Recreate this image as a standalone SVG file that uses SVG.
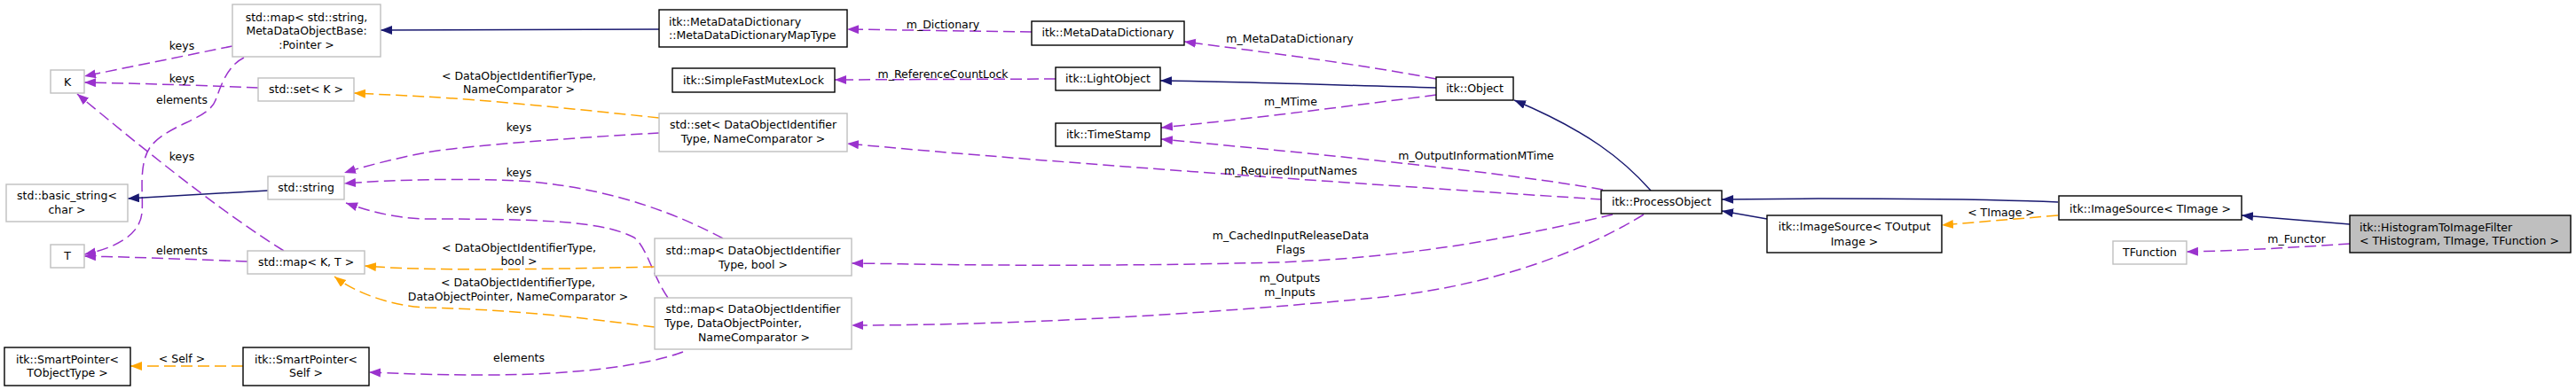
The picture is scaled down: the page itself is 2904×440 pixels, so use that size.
<svg xmlns="http://www.w3.org/2000/svg" width="2904" height="440" viewBox="0 0 2904 440">
<style>
text{font-family:"DejaVu Sans","Liberation Sans",sans-serif;font-size:12.5px;fill:#000}
.m{text-anchor:middle}
.s{text-anchor:start}
.nd{fill:#fff;stroke:#000;stroke-width:1.4}
.ng{fill:#fff;stroke:#bfbfbf;stroke-width:1.4}
.nr{fill:#bfbfbf;stroke:#000;stroke-width:1.4}
.en{fill:none;stroke:#191970;stroke-width:1.5;marker-end:url(#an)}
.ep{fill:none;stroke:#9a32cd;stroke-width:1.5;stroke-dasharray:13,6;marker-end:url(#ap)}
.eo{fill:none;stroke:#ffa500;stroke-width:1.5;stroke-dasharray:13,6;marker-end:url(#ao)}
</style>
<defs>
<marker id="an" markerUnits="userSpaceOnUse" markerWidth="14" markerHeight="11" refX="13" refY="5" orient="auto"><path d="M0,0 L13,5 L0,10 Z" fill="#191970"/></marker>
<marker id="ap" markerUnits="userSpaceOnUse" markerWidth="14" markerHeight="11" refX="13" refY="5" orient="auto"><path d="M0,0 L13,5 L0,10 Z" fill="#9a32cd"/></marker>
<marker id="ao" markerUnits="userSpaceOnUse" markerWidth="14" markerHeight="11" refX="13" refY="5" orient="auto"><path d="M0,0 L13,5 L0,10 Z" fill="#ffa500"/></marker>
</defs>
<rect width="2904" height="440" fill="#fff"/>
<g id="connectors">
<path class="en" d="M2649,253 L2527,243"/>
<path class="ep" d="M2649,275 C2590,279 2520,283 2465,284"/>
<text class="m" x="2589" y="273.5">m_Functor</text>
<path class="en" d="M2320,228 C2250,225 2150,224 2050,224 L1941,225"/>
<path class="eo" d="M2320,243 L2189,254"/>
<text class="m" x="2256" y="243.5">&lt; TImage &gt;</text>
<path class="en" d="M1992,247 L1941,238"/>
<path class="en" d="M1861,215 C1830,180 1790,148 1707,113"/>
<path class="ep" d="M1807,214 C1700,195 1500,175 1309,157"/>
<text class="m" x="1664" y="179.5">m_OutputInformationMTime</text>
<path class="ep" d="M1619,107 C1520,120 1400,135 1309,144"/>
<text class="m" x="1455" y="119">m_MTime</text>
<path class="en" d="M1619,99 C1500,96 1400,92 1308,91"/>
<path class="ep" d="M1619,89 C1530,72 1420,58 1335,47"/>
<text class="m" x="1454" y="47.5">m_MetaDataDictionary</text>
<path class="ep" d="M1163,36 L955,33"/>
<text class="m" x="1063" y="31.5">m_Dictionary</text>
<path class="ep" d="M1190,89 L941,90"/>
<text class="m" x="1063" y="87.5">m_ReferenceCountLock</text>
<path class="en" d="M743,33 L429,34"/>
<path class="ep" d="M1806,225 C1600,212 1200,185 955,162"/>
<text class="m" x="1455" y="196.5">m_RequiredInputNames</text>
<path class="ep" d="M1818,242 C1720,265 1600,290 1440,296 C1200,302 1050,298 960,297"/>
<text class="m" x="1455" y="269.5">m_CachedInputReleaseData</text>
<text class="m" x="1455" y="285.5">Flags</text>
<path class="ep" d="M1853,242 C1800,275 1700,320 1560,335 C1300,360 1100,367 960,367"/>
<text class="m" x="1454" y="317.5">m_Outputs</text>
<text class="m" x="1454" y="333.5">m_Inputs</text>
<path class="ep" d="M743,150 C650,155 520,165 480,172 C440,180 410,188 388,195"/>
<text class="m" x="585" y="147.5">keys</text>
<path class="ep" d="M815,269 C770,245 700,215 600,205 C530,200 440,203 388,207"/>
<text class="m" x="585" y="198.5">keys</text>
<path class="ep" d="M753,336 C735,310 730,280 715,268 C680,250 620,247 480,247 C440,246 410,236 390,229"/>
<text class="m" x="585" y="239.5">keys</text>
<path class="ep" d="M770,397 C730,412 650,423 550,423 C480,423 440,421 416,420"/>
<text class="m" x="585" y="407.5">elements</text>
<path class="eo" d="M738,301 C600,304 480,306 411,300"/>
<text class="m" x="585" y="283.5">&lt; DataObjectIdentifierType,</text>
<text class="m" x="585" y="298.5">bool &gt;</text>
<path class="eo" d="M738,369 C680,362 600,350 480,347 C440,345 400,330 377,312"/>
<text class="m" x="584" y="322.5">&lt; DataObjectIdentifierType,</text>
<text class="m" x="584" y="338.5">DataObjectPointer, NameComparator &gt;</text>
<path class="eo" d="M743,133 C650,123 550,113 480,109 L399,105"/>
<text class="m" x="585" y="89.5">&lt; DataObjectIdentifierType,</text>
<text class="m" x="585" y="104.5">NameComparator &gt;</text>
<path class="ep" d="M279,295 C200,292 150,290 95,289"/>
<text class="m" x="205" y="286.5">elements</text>
<path class="ep" d="M320,283 C260,245 200,200 87,106"/>
<text class="m" x="205" y="180.5">keys</text>
<path class="ep" d="M262,52 L95,86"/>
<text class="m" x="205" y="55.5">keys</text>
<path class="ep" d="M291,99 C220,96 150,94 95,93"/>
<text class="m" x="205" y="92.5">keys</text>
<path class="ep" d="M275,65 C255,75 248,100 243,113 C235,135 190,140 170,165 C155,185 162,220 160,240 C158,265 130,280 95,287"/>
<text class="m" x="205" y="116.5">elements</text>
<path class="en" d="M302,215 L144,224"/>
<path class="eo" d="M274,413 L147,413"/>
<text class="m" x="205" y="408.5">&lt; Self &gt;</text>
</g>
<g id="n_root"><rect class="nr" x="2649" y="243" width="249" height="42"/><text class="s" x="2660" y="260.5">itk::HistogramToImageFilter</text><text class="s" x="2660" y="276">&lt; THistogram, TImage, TFunction &gt;</text></g>
<g id="n_imgsrc_timage"><rect class="nd" x="2321" y="221" width="206" height="27"/><text class="m" x="2424" y="239.5">itk::ImageSource&lt; TImage &gt;</text></g>
<g id="n_tfunction"><rect class="ng" x="2382" y="272" width="83" height="26"/><text class="m" x="2423.5" y="289">TFunction</text></g>
<g id="n_imgsrc_tout"><rect class="nd" x="1992" y="243" width="197" height="42"/><text class="m" x="2090.5" y="260">itk::ImageSource&lt; TOutput</text><text class="m" x="2090.5" y="276.5">Image &gt;</text></g>
<g id="n_processobject"><rect class="nd" x="1805" y="215" width="136" height="26"/><text class="m" x="1873" y="232">itk::ProcessObject</text></g>
<g id="n_object"><rect class="nd" x="1619" y="87" width="87" height="26"/><text class="m" x="1662.5" y="104">itk::Object</text></g>
<g id="n_timestamp"><rect class="nd" x="1190" y="139" width="119" height="26"/><text class="m" x="1249.5" y="156">itk::TimeStamp</text></g>
<g id="n_lightobject"><rect class="nd" x="1190" y="76" width="118" height="26"/><text class="m" x="1249" y="93">itk::LightObject</text></g>
<g id="n_mdd"><rect class="nd" x="1163" y="24" width="172" height="27"/><text class="m" x="1249" y="41">itk::MetaDataDictionary</text></g>
<g id="n_maptype"><rect class="nd" x="743" y="11" width="212" height="42"/><text class="s" x="754" y="28.5">itk::MetaDataDictionary</text><text class="s" x="754" y="44">::MetaDataDictionaryMapType</text></g>
<g id="n_sfml"><rect class="nd" x="758" y="77" width="183" height="27"/><text class="m" x="849.5" y="94.5">itk::SimpleFastMutexLock</text></g>
<g id="n_set_doi"><rect class="ng" x="743" y="128" width="212" height="43"/><text class="m" x="849" y="145">std::set&lt; DataObjectIdentifier</text><text class="m" x="849" y="161">Type, NameComparator &gt;</text></g>
<g id="n_map_doi_bool"><rect class="ng" x="738" y="269" width="222" height="42"/><text class="m" x="849" y="287">std::map&lt; DataObjectIdentifier</text><text class="m" x="849" y="303">Type, bool &gt;</text></g>
<g id="n_map_doi_dop"><rect class="ng" x="738" y="336" width="222" height="58"/><text class="m" x="849" y="353">std::map&lt; DataObjectIdentifier</text><text class="s" x="749" y="369">Type, DataObjectPointer,</text><text class="m" x="850" y="385">NameComparator &gt;</text></g>
<g id="n_map_string"><rect class="ng" x="262" y="5" width="167" height="59"/><text class="m" x="345.5" y="24">std::map&lt; std::string,</text><text class="m" x="345.5" y="39"> MetaDataObjectBase:</text><text class="m" x="345.5" y="54.5">:Pointer &gt;</text></g>
<g id="n_set_k"><rect class="ng" x="291" y="88" width="108" height="26"/><text class="m" x="345" y="104.5">std::set&lt; K &gt;</text></g>
<g id="n_k"><rect class="ng" x="57" y="79" width="38" height="26"/><text class="m" x="76" y="96.5">K</text></g>
<g id="n_string"><rect class="ng" x="302" y="199" width="86" height="26"/><text class="m" x="345" y="216">std::string</text></g>
<g id="n_basic_string"><rect class="ng" x="7" y="208" width="137" height="42"/><text class="m" x="75.5" y="225">std::basic_string&lt;</text><text class="m" x="75.5" y="240.5">char &gt;</text></g>
<g id="n_t"><rect class="ng" x="57" y="276" width="38" height="26"/><text class="m" x="76" y="293">T</text></g>
<g id="n_map_kt"><rect class="ng" x="279" y="283" width="132" height="26"/><text class="m" x="345" y="300">std::map&lt; K, T &gt;</text></g>
<g id="n_sp_tobj"><rect class="nd" x="5" y="392" width="142" height="43"/><text class="m" x="76" y="409.5">itk::SmartPointer&lt;</text><text class="m" x="76" y="425">TObjectType &gt;</text></g>
<g id="n_sp_self"><rect class="nd" x="274" y="392" width="142" height="43"/><text class="m" x="345" y="409.5">itk::SmartPointer&lt;</text><text class="m" x="345" y="425">Self &gt;</text></g>
</svg>
